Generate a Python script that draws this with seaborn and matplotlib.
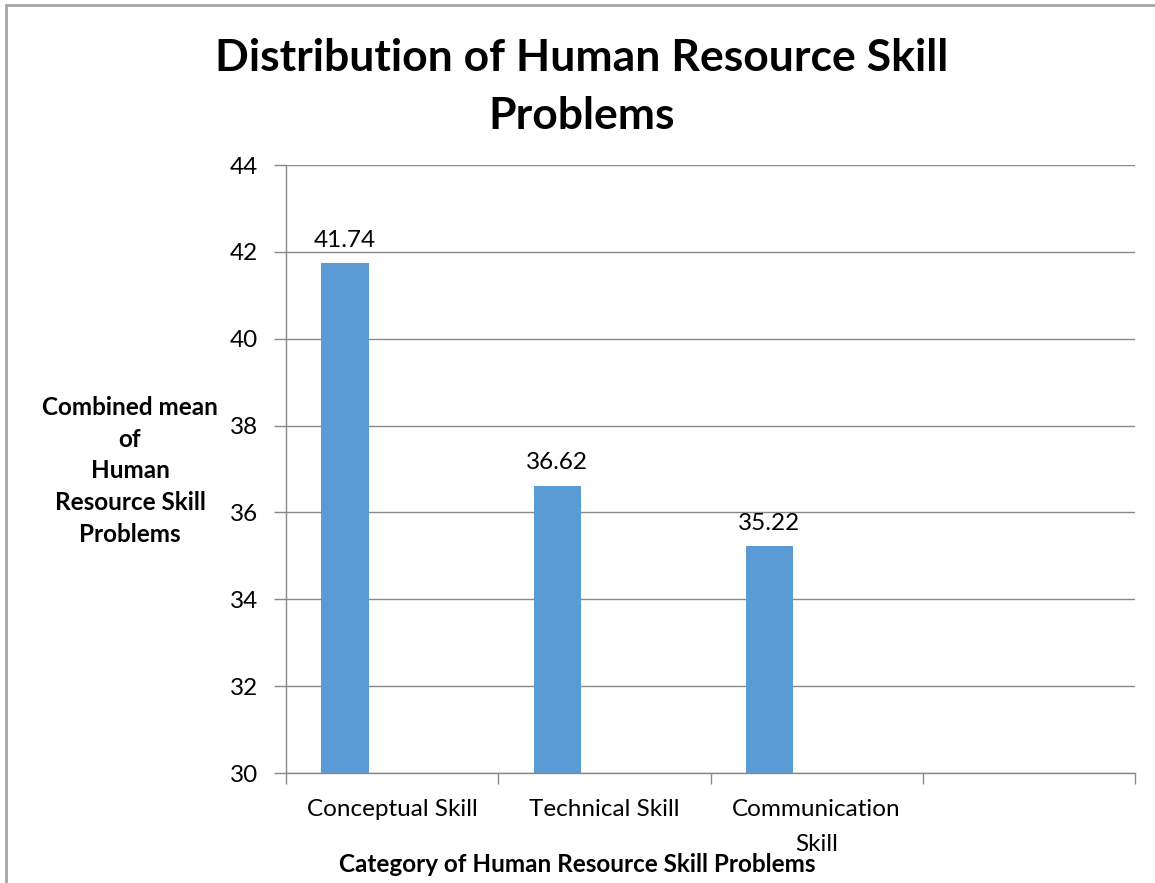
import matplotlib
matplotlib.use("Agg")
import matplotlib.pyplot as plt
from matplotlib.lines import Line2D
import seaborn as sns
import pandas as pd
import numpy as np

categories = ["Conceptual Skill", "Technical Skill", "Communication\nSkill", ""]
series_names = ["Mean", "Series2", "Series3"]
mean_values = [41.74, 36.62, 35.22, np.nan]
y_ticks = [30, 32, 34, 36, 38, 40, 42, 44]

title = "Distribution of Human Resource Skill\nProblems"
ylabel = "Combined mean\nof\nHuman\nResource Skill\nProblems"
xlabel = "Category of Human Resource Skill Problems"

rows = []
for c, v in zip(categories, mean_values):
    rows.append({"cat": c, "series": series_names[0], "value": v})
    for s in series_names[1:]:
        rows.append({"cat": c, "series": s, "value": np.nan})
df = pd.DataFrame(rows)

sns.set_theme(style="white")
plt.rcParams["font.family"] = ["Lato", "DejaVu Sans"]
plt.rcParams["text.color"] = "black"
plt.rcParams["xtick.labelcolor"] = "black"
plt.rcParams["ytick.labelcolor"] = "black"

fig = plt.figure(figsize=(11.55, 8.83), dpi=100)
ax = fig.add_axes([286/1155, 1-773/883, (1135-286)/1155, (773-165)/883])

bar_color = "#5B9BD5"
sns.barplot(data=df, x="cat", y="value", hue="series", order=categories,
            hue_order=series_names, palette=[bar_color]*3, width=0.667,
            gap=0, dodge=True, legend=False, ax=ax, errorbar=None,
            saturation=1, linewidth=0)

ax.set_xlim(-0.5, len(categories)-0.5)
ax.set_ylim(y_ticks[0], y_ticks[-1])
ax.set_yticks(y_ticks)
ax.set_yticklabels([str(t) for t in y_ticks], fontsize=17.5)
ax.grid(axis="y", color="#898989", linewidth=1)
ax.set_axisbelow(True)

ax.set_xticks(range(len(categories)))
ax.set_xticklabels(categories, fontsize=17.5, linespacing=1.82, va="top")
ax.tick_params(axis="x", which="major", length=0, pad=19)
ax.set_xticks(np.arange(-0.5, len(categories), 1.0), minor=True)
ax.tick_params(axis="x", which="minor", length=8, color="#898989", width=1, direction="out", bottom=True)
ax.tick_params(axis="y", length=9, color="#898989", width=1, left=True, pad=11)

for s in ["top", "right"]:
    ax.spines[s].set_visible(False)
for s in ["left", "bottom"]:
    ax.spines[s].set_color("#898989")
    ax.spines[s].set_linewidth(1)

# data labels
for p in ax.patches:
    h = p.get_height()
    if np.isfinite(h) and h > 0:
        ax.text(p.get_x() + p.get_width()/2, h + 0.28, f"{h:.2f}",
                ha="center", va="bottom", fontsize=17.5, color="black")

ax.set_xlabel("")
ax.set_ylabel("")
fig.text(130/1155, 1-471/883, ylabel, ha="center", va="center", fontsize=17.5,
         fontweight="bold", linespacing=1.45)
fig.text(577/1155, 1-865/883, xlabel, ha="center", va="center", fontsize=17.5,
         fontweight="bold")
fig.text(582/1155, 1-87/883, title, ha="center", va="center", fontsize=32,
         fontweight="bold", linespacing=1.55)

# chart border
fig.add_artist(Line2D([6/1155, 1], [1-5/883, 1-5/883], color="#A6A6A6", lw=2, transform=fig.transFigure))
fig.add_artist(Line2D([6/1155, 6/1155], [0, 1-5/883], color="#A6A6A6", lw=2, transform=fig.transFigure))

fig.savefig("out.png", dpi=100, facecolor="white")
